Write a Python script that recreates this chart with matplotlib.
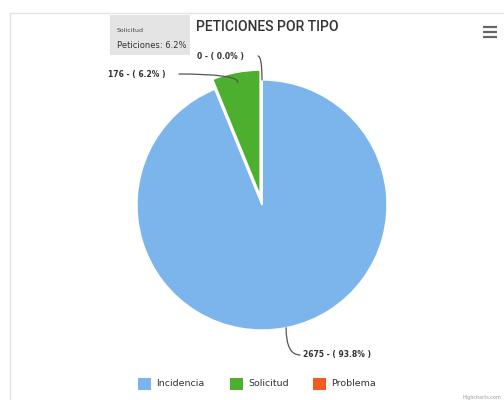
import numpy as np
import matplotlib
matplotlib.use("Agg")
import matplotlib.pyplot as plt

# datos
categorias = ["Incidencia", "Solicitud", "Problema"]
valores = [2675, 176, 0]
colores = ["#7cb5ec", "#4caf2e", "#f45b1f"]
titulo = "PETICIONES POR TIPO"
serie = "Peticiones"
destacado = 1  # Solicitud (sliced + tooltip)

W, H = 504, 400
total = sum(valores)
pct = [v / total * 100 for v in valores]

fig = plt.figure(figsize=(W / 100, H / 100), dpi=100)
ax = fig.add_axes([0, 0, 1, 1])
ax.set_xlim(0, W)
ax.set_ylim(0, H)
ax.axis("off")


def py(y):
    # coordenada en pixeles (desde arriba) -> datos
    return H - y


# marco del contenedor
ax.plot([10, W], [py(13), py(13)], color="#e3e3e3", lw=1)
ax.plot([10, 10], [py(13), 0], color="#e3e3e3", lw=1)

# pie (explode en unidades de datos = pixeles)
cx, cy, R = 262, py(205), 125
explode = [10 if i == destacado else 0 for i in range(len(valores))]
ax.pie(valores, colors=colores, startangle=90, counterclock=False,
       explode=explode, radius=R, center=(cx, cy), frame=True,
       wedgeprops=dict(edgecolor="white", linewidth=1))
ax.set_xlim(0, W)
ax.set_ylim(0, H)
ax.set_aspect("auto")
ax.axis("off")

# etiquetas con conectores
ang0 = 90.0
angulos = []
for v in valores:
    span = v / total * 360
    angulos.append(ang0 - span / 2)
    ang0 -= span

pos_texto = [(303, 355, "left"), (165, 74, "right"), (244, 56, "right")]
for i, v in enumerate(valores):
    a = np.deg2rad(angulos[i])
    off = explode[i]
    rr = R - 10 if i == destacado else R
    x0 = cx + off * np.cos(a) + rr * np.cos(a)
    y0 = cy + off * np.sin(a) + rr * np.sin(a)
    tx, ty, ha = pos_texto[i]
    etiqueta = f"{v} - ( {pct[i]:.1f}% )"
    ax.text(tx, py(ty), etiqueta, fontsize=5.5, color="#333333",
            ha=ha, va="center", fontweight="bold")
    ex = tx - 3 if ha == "left" else tx + 14
    ax.annotate("", xy=(x0, y0), xytext=(ex, py(ty)),
                arrowprops=dict(arrowstyle="-", color="#555555", lw=0.9,
                                shrinkA=0, shrinkB=0,
                                connectionstyle="angle3,angleA=0,angleB=90"))

# titulo
ax.text(267, py(27), titulo, fontsize=10, color="#333333", fontweight="medium",
        ha="center", va="center", family=["Roboto", "DejaVu Sans"])

# tooltip
ax.add_patch(plt.Rectangle((110, py(55)), 80, 40, facecolor="#e4e4e4",
                           edgecolor="none"))
ax.text(117, py(31), categorias[destacado], fontsize=4.5, color="#444444",
        va="center")
ax.text(117, py(45), f"{serie}: {pct[destacado]:.1f}%", fontsize=6,
        color="#333333", va="center")

# menu
for yy in (27, 32, 37):
    ax.plot([483, 497], [py(yy), py(yy)], color="#666666", lw=1.6,
            solid_capstyle="butt")

# leyenda
xs_leyenda = [138, 230, 313]
for i, c in enumerate(categorias):
    x = xs_leyenda[i]
    ax.add_patch(plt.Rectangle((x, py(390)), 13, 12, facecolor=colores[i],
                               edgecolor="none"))
    ax.text(x + 18, py(384), c, fontsize=6.8, color="#333333", va="center")

ax.text(W - 3, py(397), "Highcharts.com", fontsize=3.5, color="#999999",
        ha="right", va="center")

plt.savefig("out.png", dpi=100)
